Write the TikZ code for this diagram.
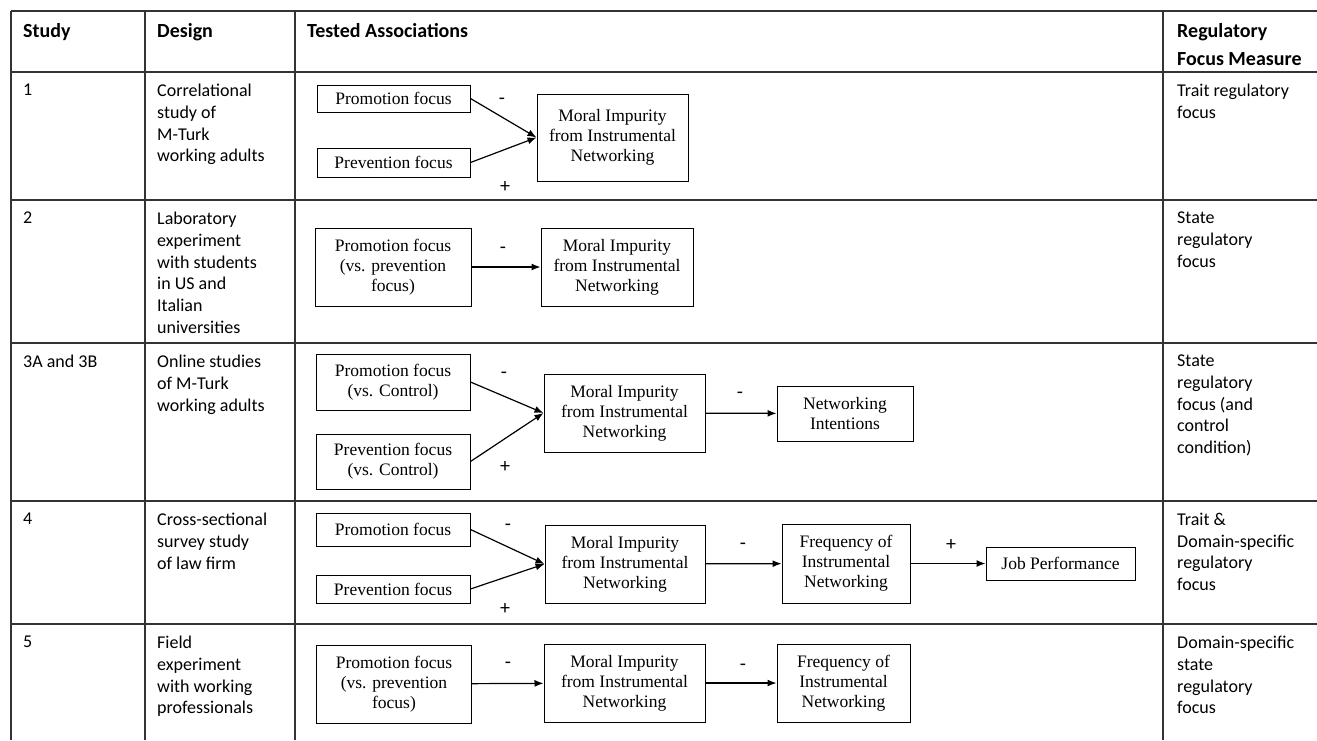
\documentclass[tikz,border=0pt]{standalone}
\usepackage{fontspec}
\setmainfont{Carlito}
\newfontfamily\boxfont{Liberation Serif}
\usetikzlibrary{positioning,arrows.meta}

\begin{document}
\begin{tikzpicture}[x=1pt, y=-1pt, >={Latex[length=9pt,width=7pt]},
    cell/.style={anchor=north west, align=left, inner sep=0pt, font=\fontsize{18}{21.7}\selectfont},
    head/.style={anchor=north west, align=left, inner sep=0pt, font=\fontsize{20}{28}\selectfont\bfseries},
    box/.style={draw, line width=1pt, align=center, inner sep=0pt, font=\boxfont\fontsize{17.5}{20}\selectfont},
    sign/.style={inner sep=0pt, font=\fontsize{20}{20}\selectfont},
    rule/.style={line width=1.3pt, black!80},
    link/.style={->, line width=1.2pt}]

    \useasboundingbox (0,0) rectangle (1317,740);

    % Table rules
    \foreach \y in {11,72,200,343,501,624}
        \draw[rule] (11,\y) -- (1317,\y);
    \foreach \x in {11,145,295,1163}
        \draw[rule] (\x,11) -- (\x,740);

    % Header
    \node at (23,23) (hstudy) [head] {Study};
    \node at (157,23) (hdesign) [head] {Design};
    \node at (307,23) (htested) [head] {Tested Associations};
    \node at (1177,23) (hmeasure) [head] {Regulatory\\Focus Measure};

    % Study and design cells
    \node at (23,84) (st1) [cell] {1};
    \node at (157,84) (de1) [cell] {Correlational\\study of\\M-Turk\\working adults};
    \node at (23,212) (st2) [cell] {2};
    \node at (157,212) (de2) [cell] {Laboratory\\experiment\\with students\\in US and\\Italian\\universities};
    \node at (23,355) (st3) [cell] {3A and 3B};
    \node at (157,355) (de3) [cell] {Online studies\\of M-Turk\\working adults};
    \node at (23,513) (st4) [cell] {4};
    \node at (157,513) (de4) [cell] {Cross-sectional\\survey study\\of law firm};
    \node at (23,636) (st5) [cell] {5};
    \node at (157,636) (de5) [cell] {Field\\experiment\\with working\\professionals};

    % Measure cells
    \node at (1177,84) (me1) [cell] {Trait regulatory\\focus};
    \node at (1177,212) (me2) [cell] {State\\regulatory\\focus};
    \node at (1177,355) (me3) [cell] {State\\regulatory\\focus (and\\control\\condition)};
    \node at (1177,513) (me4) [cell] {Trait \&\\Domain-specific\\regulatory\\focus};
    \node at (1177,636) (me5) [cell] {Domain-specific\\state\\regulatory\\focus};

    % Study 1
    \node at (393.5,98.5) (pro1) [box, minimum width=153pt, minimum height=27pt] {Promotion focus};
    \node at (393.5,162.5) (pre1) [box, minimum width=153pt, minimum height=29pt] {Prevention focus};
    \node at (612.5,137.5) (mor1) [box, minimum width=151pt, minimum height=87pt] {Moral Impurity\\from Instrumental\\Networking};
    \node at (502,101) (neg1) [sign] {-};
    \node at (505,187) (pos1) [sign] {+};
    \draw[link] (pro1.east) -- (mor1.west);
    \draw[link] (pre1.east) -- (mor1.west);

    % Study 2
    \node at (393,267) (pro2) [box, minimum width=156pt, minimum height=78pt] {Promotion focus\\(vs. prevention\\focus)};
    \node at (617,267) (mor2) [box, minimum width=152pt, minimum height=78pt] {Moral Impurity\\from Instrumental\\Networking};
    \node at (503,250) (neg2) [sign] {-};
    \draw[link] (pro2.east) -- (mor2.west);

    % Study 3A and 3B
    \node at (393,382) (pro3) [box, minimum width=154pt, minimum height=56pt] {Promotion focus\\(vs. Control)};
    \node at (393,461.5) (pre3) [box, minimum width=154pt, minimum height=55pt] {Prevention focus\\(vs. Control)};
    \node at (624.5,413) (mor3) [box, minimum width=161pt, minimum height=78pt] {Moral Impurity\\from Instrumental\\Networking};
    \node at (845,413.5) (int3) [box, minimum width=136pt, minimum height=55pt] {Networking\\Intentions};
    \node at (504,375) (neg3) [sign] {-};
    \node at (505,467) (pos3) [sign] {+};
    \node at (740,395) (neg3b) [sign] {-};
    \draw[link] (pro3.east) -- (mor3.west);
    \draw[link] (pre3.east) -- (mor3.west);
    \draw[link] (mor3) -- (int3);

    % Study 4
    \node at (393,529.5) (pro4) [box, minimum width=154pt, minimum height=33pt] {Promotion focus};
    \node at (393,589) (pre4) [box, minimum width=154pt, minimum height=28pt] {Prevention focus};
    \node at (625,564) (mor4) [box, minimum width=160pt, minimum height=78pt] {Moral Impurity\\from Instrumental\\Networking};
    \node at (846,563.5) (fre4) [box, minimum width=128pt, minimum height=79pt] {Frequency of\\Instrumental\\Networking};
    \node at (1060.5,563.5) (job4) [box, minimum width=149pt, minimum height=33pt] {Job Performance};
    \node at (508,527) (neg4) [sign] {-};
    \node at (505,609) (pos4) [sign] {+};
    \node at (743,546) (neg4b) [sign] {-};
    \node at (951,545) (pos4b) [sign] {+};
    \draw[link] (pro4.east) -- (mor4.west);
    \draw[link] (pre4.east) -- (mor4.west);
    \draw[link] (mor4) -- (fre4);
    \draw[link] (fre4) -- (job4);

    % Study 5
    \node at (394,684) (pro5) [box, minimum width=155pt, minimum height=78pt] {Promotion focus\\(vs. prevention\\focus)};
    \node at (624.5,683) (mor5) [box, minimum width=161pt, minimum height=78pt] {Moral Impurity\\from Instrumental\\Networking};
    \node at (843.5,683) (fre5) [box, minimum width=133pt, minimum height=78pt] {Frequency of\\Instrumental\\Networking};
    \node at (508,665) (neg5) [sign] {-};
    \node at (743,667) (neg5b) [sign] {-};
    \draw[link] (pro5) -- (mor5);
    \draw[link] (mor5) -- (fre5);

\end{tikzpicture}
\end{document}
